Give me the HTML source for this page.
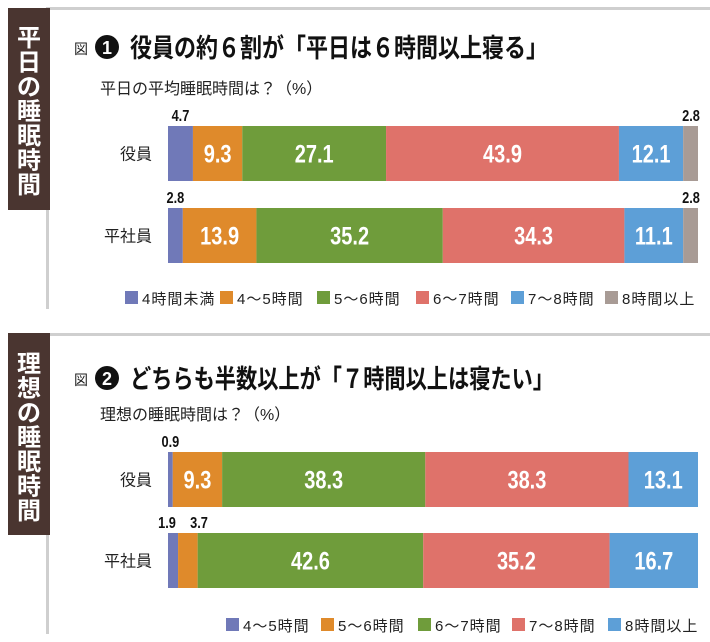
<!DOCTYPE html>
<html><head><meta charset="utf-8">
<style>
body{margin:0;background:#fff;}
svg{display:block;font-family:"Liberation Sans","Noto Sans CJK JP",sans-serif;}
.num{font-weight:bold;}
</style></head>
<body>
<svg id="chart" width="710" height="642" viewBox="0 0 710 642">
<rect x="46" y="7" width="664" height="3" fill="#cfcfcf"/>
<rect x="46" y="7" width="3" height="302" fill="#cfcfcf"/>
<rect x="8" y="8" width="42" height="202" fill="#4a3530"/>
<g id="side1"></g>
<rect x="46" y="333" width="664" height="3" fill="#cfcfcf"/>
<rect x="46" y="333" width="3" height="301" fill="#cfcfcf"/>
<rect x="8" y="333" width="42" height="202" fill="#4a3530"/>
<g id="side2"></g>

<text x="74" y="54" font-size="14" fill="#222">図</text>
<circle cx="107" cy="47" r="12" fill="#111"/>
<text x="107" y="54" font-size="18" font-weight="bold" fill="#fff" text-anchor="middle">1</text>
<text x="130" y="57" font-size="26" font-weight="bold" fill="#111" textLength="418" lengthAdjust="spacingAndGlyphs">役員の約６割が「平日は６時間以上寝る」</text>
<text x="100" y="94" font-size="16" fill="#222">平日の平均睡眠時間は？（%）</text>

<text x="74" y="385" font-size="14" fill="#222">図</text>
<circle cx="107" cy="378" r="12" fill="#111"/>
<text x="107" y="385" font-size="18" font-weight="bold" fill="#fff" text-anchor="middle">2</text>
<text x="130" y="388" font-size="26" font-weight="bold" fill="#111" textLength="424" lengthAdjust="spacingAndGlyphs">どちらも半数以上が「７時間以上は寝たい」</text>
<text x="100" y="420" font-size="16" fill="#222">理想の睡眠時間は？（%）</text>
<g id="marks"></g>
</svg>
<script>
const rows = ["役員","平社員"];
const cats1 = ["4時間未満","4〜5時間","5〜6時間","6〜7時間","7〜8時間","8時間以上"];
const p1Exec = [4.7,9.3,27.1,43.9,12.1,2.8];
const p1Staff = [2.8,13.9,35.2,34.3,11.1,2.8];
const cats2 = ["4〜5時間","5〜6時間","6〜7時間","7〜8時間","8時間以上"];
const p2Exec = [0.9,9.3,38.3,38.3,13.1];
const p2Staff = [1.9,3.7,42.6,35.2,16.7];

const colors1 = ["#7079b8","#df8a2b","#6f9c3b","#df726a","#5d9fd7","#a89b95"];
const colors2 = ["#7079b8","#df8a2b","#6f9c3b","#df726a","#5d9fd7"];
const NS = "http://www.w3.org/2000/svg";
const g = document.getElementById("marks");
const X0 = 168, W = 530;
function mk(tag, attrs, text, parent){
  const e = document.createElementNS(NS, tag);
  for (const k in attrs) e.setAttribute(k, attrs[k]);
  if (text !== undefined) e.textContent = text;
  (parent || g).appendChild(e);
  return e;
}
function side(id, str, y0){
  const p = document.getElementById(id);
  [...str].forEach((ch, i) => {
    const t = mk("text", {x:29, y:y0 + i*24.5, "font-size":24, "font-weight":"bold", fill:"#fff", "text-anchor":"middle"}, ch, p);
    
    
  });
}
side("side1", "平日の睡眠時間", 46);
side("side2", "理想の睡眠時間", 372);
function num(cx, cy, size, fill, str){
  return mk("text", {transform:"translate("+cx+" "+cy+") scale(0.8 1)", x:0, y:0, "font-size":size, fill:fill, "text-anchor":"middle", "class":"num"}, str);
}
function drawPanel(pid, series, colors, rowYs, barH, legendY, legendXs, cats){
  series.forEach((vals, ri) => {
    const total = vals.reduce((a,b)=>a+b,0);
    const xs = v => v / total * W;
    const y = rowYs[ri];
    const lab = mk("text", {x:152, y:y+barH/2+6, "font-size":16, fill:"#222", "text-anchor":"end"}, rows[ri]);
    
    
    let acc = 0;
    const small = [];
    vals.forEach((v, ci) => {
      const x = X0 + xs(acc), w = xs(v);
      const r = mk("rect", {x:x, y:y, width:w, height:barH, fill:colors[ci]});
      
      
      if (w > 40) {
        const t = num(x+w/2, y+barH/2+9, 25, "#fff", v.toFixed(1));
        
        
      } else {
        small.push([x + w/2, v]);
      }
      acc += v;
    });
    for (let i=0;i<small.length;i++){
      let cx = small[i][0];
      if (i>0 && cx - small[i-1][0] < 26) cx = small[i-1][0] + 26;
      if (i===0 && i+1<small.length && small[1][0]-cx < 26) cx = cx - 6;
      if (cx > 690) cx = 691;
      const t = num(cx, y-5, 16, "#111", small[i][1].toFixed(1));
      
      
    }
  });
  cats.forEach((c, ci) => {
    const lx = legendXs[ci];
    const s = mk("rect", {x:lx, y:legendY-13, width:13, height:13, fill:colors[ci]});
    
    
    const t = mk("text", {x:lx+17, y:legendY, "font-size":15, fill:"#222", "letter-spacing":"1"}, c);
    
    
  });
}
drawPanel("p1", [p1Exec, p1Staff], colors1, [126, 208], 55, 304, [125,220,317,416,511,605], cats1);
drawPanel("p2", [p2Exec, p2Staff], colors2, [452, 533], 55, 631, [226,321,418,512,608], cats2);
</script>
</body></html>
